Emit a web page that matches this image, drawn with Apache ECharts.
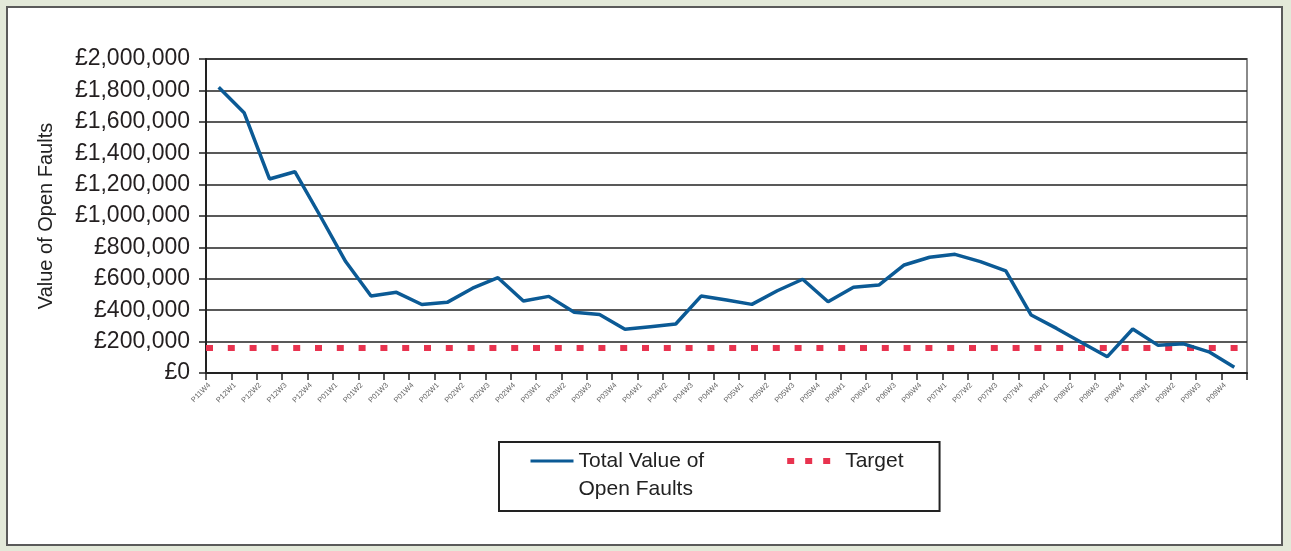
<!DOCTYPE html>
<html>
<head>
<meta charset="utf-8">
<script src="https://cdn.jsdelivr.net/npm/echarts@6/dist/echarts.min.js"></script>
<style>
  html, body { margin: 0; padding: 0; background: #e3e9d9; }
  #frame { position: absolute; left: 6px; top: 6px; width: 1273px; height: 536px;
           border: 2px solid #5a5a5a; background: #fff; }
  #main { position: absolute; left: 0; top: 0; width: 1291px; height: 551px; }
</style>
</head>
<body>
<div id="frame"></div>
<div id="main"></div>
<script>
// periods / weeks on the x axis
const weeks = [
  "P11W4", "P12W1", "P12W2", "P12W3", "P12W4",
  "P01W1", "P01W2", "P01W3", "P01W4",
  "P02W1", "P02W2", "P02W3", "P02W4",
  "P03W1", "P03W2", "P03W3", "P03W4",
  "P04W1", "P04W2", "P04W3", "P04W4",
  "P05W1", "P05W2", "P05W3", "P05W4",
  "P06W1", "P06W2", "P06W3", "P06W4",
  "P07W1", "P07W2", "P07W3", "P07W4",
  "P08W1", "P08W2", "P08W3", "P08W4",
  "P09W1", "P09W2", "P09W3", "P09W4"
];

// total value of open faults (GBP)
const openFaults = [
  1820000, 1658000, 1236000, 1282000, 1000000,
  710000, 490000, 514000, 436000,
  450000, 540000, 607000, 459000,
  488000, 387000, 372000, 278000,
  295000, 312000, 490000, 465000,
  437000, 524000, 597000, 454000,
  546000, 560000, 688000, 737000,
  756000, 709000, 650000, 369000,
  284000, 193000, 104000, 280000,
  176000, 186000, 135000, 36000
];

const target = 160000;

const yMin = 0;
const yMax = 2000000;
const yStep = 200000;

const font = "'Liberation Sans', Arial, Helvetica, sans-serif";
const ink = "#222";
const blue = "#0b5a95";
const red = "#e8334f";

const chart = echarts.init(document.getElementById("main"));

const option = {
  animation: false,
  textStyle: { fontFamily: font },
  grid: {
    left: 206, right: 44, top: 59, bottom: 178,
    show: true, borderColor: "#8a8a8a", borderWidth: 2, backgroundColor: "transparent"
  },
  legend: {
    left: 499, top: 442,
    orient: "horizontal",
    padding: [-23, 36, 8, 30],
    borderColor: ink, borderWidth: 2,
    backgroundColor: "#fff",
    itemWidth: 43, itemHeight: 14, itemGap: 80,
    itemStyle: { opacity: 0 },
    textStyle: { fontSize: 21, color: ink, fontFamily: font, lineHeight: 28 },
    data: [
      { name: "Total Value of Open Faults",
        lineStyle: { width: 3, color: blue } },
      { name: "Target",
        lineStyle: { width: 6, color: red, type: [7, 11] },
        textStyle: { padding: [0, 0, 0, 10] } }
    ],
    // leading blank line keeps the first text line level with the icon
    formatter: function (name) {
      return name === "Total Value of Open Faults" ? "\nTotal Value of\nOpen Faults" : name;
    }
  },
  xAxis: {
    type: "category",
    data: weeks,
    boundaryGap: true,
    axisLine: { lineStyle: { color: ink, width: 2 } },
    axisTick: { show: true, length: 7, lineStyle: { color: ink, width: 1.5 } },
    axisLabel: {
      interval: 0, rotate: 45, fontSize: 7.5, color: "#666",
      margin: 2, padding: [0, 13, 0, 0]
    },
    splitLine: { show: false }
  },
  yAxis: {
    type: "value",
    min: yMin, max: yMax, interval: yStep,
    name: "Value of Open Faults",
    nameLocation: "middle",
    nameGap: 150,
    nameTextStyle: { fontSize: 20, color: ink },
    axisLine: { show: true, lineStyle: { color: ink, width: 2 } },
    axisTick: { show: true, length: 7, lineStyle: { color: ink, width: 1.5 } },
    axisLabel: {
      fontSize: 23, color: "#231f20", margin: 16,
      formatter: v => "£" + v.toLocaleString("en-GB")
    },
    splitLine: { lineStyle: { color: ink, width: 1.5 } }
  },
  series: [
    {
      name: "Total Value of Open Faults",
      type: "line",
      data: openFaults,
      symbol: "none",
      itemStyle: { color: blue },
      lineStyle: { color: blue, width: 3.5 },
      z: 5
    },
    {
      name: "Target",
      type: "line",
      data: [],
      symbol: "none",
      itemStyle: { color: red },
      lineStyle: { color: red, width: 6, type: [7, 11] },
      markLine: {
        silent: true,
        symbol: "none",
        label: { show: false },
        lineStyle: { color: red, width: 6, type: [7, 14.8] },
        data: [{ yAxis: target }]
      },
      z: 4
    }
  ]
};

chart.setOption(option);
</script>
</body>
</html>
